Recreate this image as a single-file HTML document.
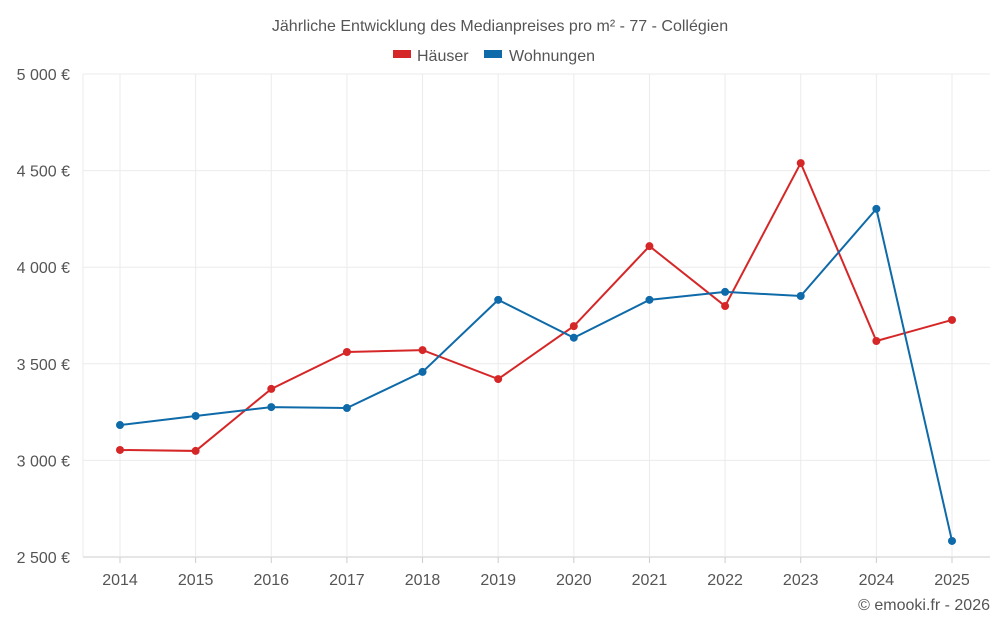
<!DOCTYPE html>
<html><head><meta charset="utf-8">
<style>
body{margin:0;background:#fff;font-family:"Liberation Sans",sans-serif;}
svg text{font-family:"Liberation Sans",sans-serif;}
</style></head>
<body>
<svg id="chart" width="1000" height="625">
<text x="500" y="31" text-anchor="middle" font-size="16" fill="#555">Jährliche Entwicklung des Medianpreises pro m² - 77 - Collégien</text>
<g>
<g><rect x="393" y="50" width="18" height="8" fill="#d62728"/><text x="417" y="61" font-size="16" fill="#555">Häuser</text></g>
<g><rect x="484" y="50" width="18" height="8" fill="#0e6aa8"/><text x="509" y="61" font-size="16" fill="#555">Wohnungen</text></g>
</g>
<g id="grid"></g><g id="axes"></g><g id="series"></g>
<text x="990" y="610" text-anchor="end" font-size="16" fill="#555">© emooki.fr - 2026</text>
</svg>
<script>
const years=[2014,2015,2016,2017,2018,2019,2020,2021,2022,2023,2024,2025];
const haeuser=[3054,3049,3370,3561,3571,3421,3695,4109,3799,4539,3618,3727];
const wohnungen=[3183,3230,3276,3271,3458,3831,3635,3831,3872,3851,4302,2583];
const yTicks=[2500,3000,3500,4000,4500,5000];
const yLabels=["2 500 €","3 000 €","3 500 €","4 000 €","4 500 €","5 000 €"];
const NS="http://www.w3.org/2000/svg";
const L=83,R=990,T=74,B=557;
const xs=i=>120+i*(952-120)/(years.length-1);
const ys=v=>B-(v-2500)/(5000-2500)*(B-T);
function mk(tag,attrs,parent){const e=document.createElementNS(NS,tag);for(const k in attrs)e.setAttribute(k,attrs[k]);parent.appendChild(e);return e;}
const grid=document.getElementById('grid'),axes=document.getElementById('axes'),ser=document.getElementById('series');
yTicks.forEach((t,i)=>{
 const l=mk('line',{x1:L,x2:R,y1:ys(t),y2:ys(t),stroke:i==0?'#ccc':'#ebebeb'},grid);
 
 
 const tx=mk('text',{x:70,y:ys(t)+6,'text-anchor':'end','font-size':16,fill:'#555'},axes);
 tx.textContent=yLabels[i];
 
 
});
const vl=mk('line',{x1:L,x2:L,y1:T,y2:B,stroke:'#ebebeb'},grid);


years.forEach((y,i)=>{
 const l=mk('line',{x1:xs(i),x2:xs(i),y1:T,y2:B,stroke:'#ebebeb'},grid);
 
 
 const tk=mk('line',{x1:xs(i),x2:xs(i),y1:B,y2:B+6,stroke:'#ccc'},axes);
 
 
 const tx=mk('text',{x:xs(i),y:585,'text-anchor':'middle','font-size':16,fill:'#555'},axes);
 tx.textContent=y;
 
 
});
function draw(data,color,name){
 const p=mk('polyline',{points:data.map((v,i)=>xs(i)+','+ys(v)).join(' '),fill:'none',stroke:color,'stroke-width':2},ser);
 
 
 data.forEach((v,i)=>{
  const c=mk('circle',{cx:xs(i),cy:ys(v),r:4,fill:color},ser);
  
  
 });
}
draw(haeuser,'#d62728','haeuser');
draw(wohnungen,'#0e6aa8','wohnungen');
</script>
</body></html>
